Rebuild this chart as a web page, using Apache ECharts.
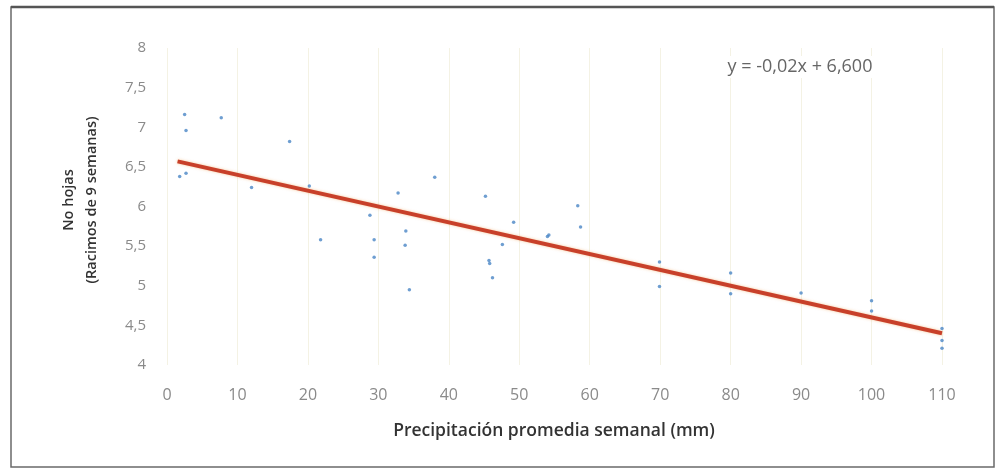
<!DOCTYPE html>
<html><head><meta charset="utf-8">
<script src="https://cdn.jsdelivr.net/npm/echarts@6/dist/echarts.min.js"></script>
<style>html,body{margin:0;padding:0;background:#fff}#c{width:999px;height:471px}</style>
</head><body><div id="c"></div>
<script>
const precipitation = [1.8, 2.5, 2.7, 2.7, 7.7, 12.0, 17.4, 20.2, 21.8, 28.8, 29.4, 29.4, 32.8, 33.8, 33.9, 34.4, 38.0, 45.2, 45.7, 45.8, 46.2, 47.6, 49.2, 54.0, 54.2, 58.3, 58.7, 69.9, 69.9, 80, 80, 90, 100, 100, 110, 110, 110];
const hojas = [6.38, 7.16, 6.96, 6.42, 7.12, 6.24, 6.82, 6.26, 5.58, 5.89, 5.58, 5.36, 6.17, 5.51, 5.69, 4.95, 6.37, 6.13, 5.32, 5.28, 5.10, 5.52, 5.80, 5.62, 5.64, 6.01, 5.74, 5.30, 4.99, 5.16, 4.90, 4.91, 4.81, 4.68, 4.46, 4.31, 4.21];
const trendSlope = -0.02;
const trendIntercept = 6.6;
const trendRange = [1.5, 110];
const equationLabel = 'y = -0,02x + 6,600';
const xTitle = 'Precipitación promedia semanal (mm)';
const yTitle = 'No hojas\n(Racimos de 9 semanas)';

const points = precipitation.map((x, i) => [x, hojas[i]]);
const trend = trendRange.map(x => [x, trendSlope * x + trendIntercept]);

const chart = echarts.init(document.getElementById('c'), null, {renderer: 'canvas'});
chart.setOption({
  animation: false,
  backgroundColor: '#fff',
  grid: {left: 167, right: 57, top: 48, bottom: 106},
  xAxis: {
    type: 'value', min: 0, max: 110, interval: 10,
    axisLine: {show: false}, axisTick: {show: false},
    splitLine: {show: true, lineStyle: {color: '#f4f2e4', width: 1}},
    axisLabel: {color: '#8a8a8a', fontFamily: 'Open Sans', fontSize: 16, margin: 22}
  },
  yAxis: {
    type: 'value', min: 4, max: 8, interval: 0.5,
    axisLine: {show: false}, axisTick: {show: false},
    splitLine: {show: false},
    axisLabel: {color: '#8a8a8a', fontFamily: 'Open Sans', fontSize: 15, margin: 21,
      formatter: v => String(v).replace('.', ',')}
  },
  series: [
    {type: 'scatter', data: points, symbolSize: 3.5, itemStyle: {color: '#4a86c5'}, z: 3},
    {type: 'line', data: trend, symbol: 'none', lineStyle: {color: '#c8402a', width: 4, shadowColor: 'rgba(240,150,60,0.5)', shadowBlur: 3}, z: 2}
  ],
  graphic: [
    {type: 'rect', shape: {x: 11, y: 7, width: 983, height: 460}, style: {fill: 'none', stroke: '#6a6a6a', lineWidth: 1.5}, silent: true},
    {type: 'line', shape: {x1: 11, y1: 7, x2: 994, y2: 7}, style: {stroke: '#555', lineWidth: 2.5}, silent: true},
    {type: 'text', x: 800, y: 67, z: 10, style: {text: equationLabel, fill: '#666', font: '18px "Open Sans"', textAlign: 'center', textVerticalAlign: 'middle', backgroundColor: '#fff', padding: [2, 4]}},
    {type: 'text', x: 554, y: 431, style: {text: xTitle, fill: '#333', font: '600 17.5px "Open Sans"', textAlign: 'center', textVerticalAlign: 'middle'}},
    {type: 'text', x: 80, y: 200, rotation: Math.PI / 2, style: {text: yTitle, fill: '#333', font: '600 14.5px "Open Sans"', lineHeight: 23, textAlign: 'center', textVerticalAlign: 'middle'}}
  ]
});
</script></body></html>
